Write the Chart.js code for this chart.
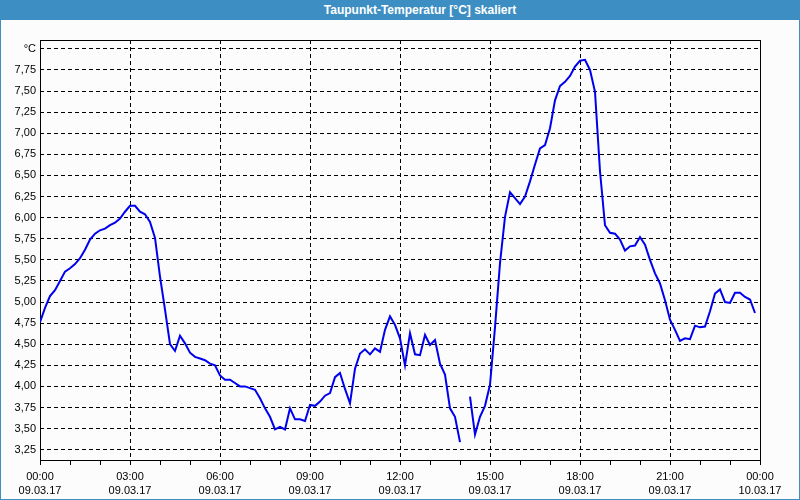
<!DOCTYPE html>
<html><head><meta charset="utf-8">
<script src="https://cdn.jsdelivr.net/npm/chart.js@4/dist/chart.umd.min.js"></script>
<style>
html,body{margin:0;padding:0;background:#fff;}
#frame{position:absolute;left:0;top:0;width:800px;height:500px;box-sizing:border-box;border:1px solid #3d8ec3;background:#fbfcfb;}
#bar{position:absolute;left:0;top:0;width:800px;height:20px;background:#3d8ec3;color:#fff;font:bold 12px "Liberation Sans",Arial,sans-serif;line-height:21px;text-align:center;box-sizing:border-box;padding-left:40px;}
canvas{position:absolute;left:0;top:0;}
</style></head><body>
<div id="frame"></div>
<div id="bar">Taupunkt-Temperatur [°C] skaliert</div>
<canvas id="c" width="800" height="500"></canvas>
<script>
const intervalMinutes = 10;
const values = [
  4.76, 4.93, 5.07, 5.14, 5.25, 5.36, 5.40, 5.45, 5.52, 5.62, 5.74, 5.81, 5.85, 5.87, 5.91, 5.94, 5.99, 6.07,
  6.14, 6.14, 6.07, 6.04, 5.95, 5.76, 5.30, 4.91, 4.50, 4.42, 4.60, 4.51, 4.40, 4.35, 4.33, 4.31, 4.27, 4.25,
  4.13, 4.08, 4.08, 4.04, 4.00, 4.00, 3.98, 3.96, 3.86, 3.74, 3.64, 3.49, 3.52, 3.49, 3.74, 3.61, 3.61, 3.59,
  3.78, 3.77, 3.82, 3.89, 3.92, 4.11, 4.16, 3.97, 3.80, 4.21, 4.39, 4.44, 4.38, 4.45, 4.41, 4.67, 4.83, 4.73,
  4.57, 4.25, 4.63, 4.38, 4.37, 4.61, 4.49, 4.55, 4.27, 4.14, 3.74, 3.64, 3.34, null, 3.88, 3.43, 3.64, 3.77,
  4.02, 4.70, 5.46, 6.01, 6.30, 6.23, 6.16, 6.25, 6.43, 6.63, 6.82, 6.86, 7.06, 7.39, 7.56, 7.61, 7.68, 7.79,
  7.86, 7.87, 7.75, 7.49, 6.55, 5.91, 5.82, 5.81, 5.74, 5.61, 5.66, 5.67, 5.77, 5.68, 5.50, 5.34, 5.22, 5.02,
  4.79, 4.67, 4.54, 4.57, 4.56, 4.72, 4.70, 4.71, 4.89, 5.10, 5.15, 5.00, 4.99, 5.11, 5.11, 5.06, 5.03, 4.87
];
const hourTicks = [0,60,120,180,240,300,360,420,480,540,600,660,720,780,840,900,960,1020,1080,1140,1200,1260,1320,1380,1440];
const xTickMinutes = [0,180,360,540,720,900,1080,1260,1440];
const xTimeLabels = ['00:00','03:00','06:00','09:00','12:00','15:00','18:00','21:00','00:00'];
const xDateLabels = ['09.03.17','09.03.17','09.03.17','09.03.17','09.03.17','09.03.17','09.03.17','09.03.17','10.03.17'];
const yTickValues = [3.25,3.5,3.75,4.0,4.25,4.5,4.75,5.0,5.25,5.5,5.75,6.0,6.25,6.5,6.75,7.0,7.25,7.5,7.75,8.0];
const yTickLabels = ['3,25','3,50','3,75','4,00','4,25','4,50','4,75','5,00','5,25','5,50','5,75','6,00','6,25','6,50','6,75','7,00','7,25','7,50','7,75','°C'];

Chart.defaults.font.family = '"Liberation Sans", Arial, sans-serif';
Chart.defaults.font.size = 11;
Chart.defaults.color = '#000';

const frameBorder = {
  id: 'frameBorder',
  beforeDatasetsDraw(chart) {
    const {ctx, chartArea: a} = chart;
    ctx.save();
    ctx.strokeStyle = '#000';
    ctx.lineWidth = 1;
    ctx.setLineDash([]);
    ctx.strokeRect(Math.round(a.left) + 0.5, Math.round(a.top) + 0.5, Math.round(a.right - a.left), Math.round(a.bottom - a.top));
    ctx.restore();
  }
};

new Chart(document.getElementById('c'), {
  type: 'line',
  data: {
    datasets: [{
      data: values.map((v, i) => ({x: i * intervalMinutes, y: v})),
      borderColor: '#0000ee',
      borderWidth: 2,
      pointRadius: 0,
      tension: 0,
      fill: false,
      spanGaps: false
    }]
  },
  options: {
    responsive: false,
    animation: false,
    devicePixelRatio: 1,
    layout: {padding: {top: 40, right: 40, left: 0, bottom: 0}},
    plugins: {legend: {display: false}, tooltip: {enabled: false}, title: {display: false}},
    scales: {
      x: {
        type: 'linear',
        min: 0, max: 1440,
        afterBuildTicks: axis => { axis.ticks = hourTicks.map(v => ({value: v})); },
        afterFit: axis => { axis.height = 40; },
        ticks: {
          autoSkip: false, maxRotation: 0, padding: 4.5,
          font: {size: 11, lineHeight: '14px'},
          callback: (value) => {
            const k = xTickMinutes.indexOf(value);
            return k >= 0 ? [xTimeLabels[k], xDateLabels[k]] : '';
          }
        },
        grid: {
          color: ctx => (ctx.tick && xTickMinutes.includes(ctx.tick.value)) ? '#000' : 'rgba(0,0,0,0)',
          tickColor: '#000',
          tickLength: 5,
          tickWidth: 1,
          tickBorderDash: [],
          lineWidth: 1
        },
        border: {display: false, dash: [4, 3]}
      },
      y: {
        type: 'linear',
        min: 3.128, max: 8.105,
        afterBuildTicks: axis => { axis.ticks = yTickValues.map(v => ({value: v})); },
        afterFit: axis => { axis.width = 40; },
        ticks: {
          padding: 4,
          font: {size: 11},
          callback: (value) => {
            const k = yTickValues.indexOf(value);
            return k >= 0 ? yTickLabels[k] : '';
          }
        },
        grid: {color: '#000', drawTicks: false, lineWidth: 1},
        border: {display: false, dash: [4, 3]}
      }
    }
  },
  plugins: [frameBorder]
});
</script>
</body></html>
